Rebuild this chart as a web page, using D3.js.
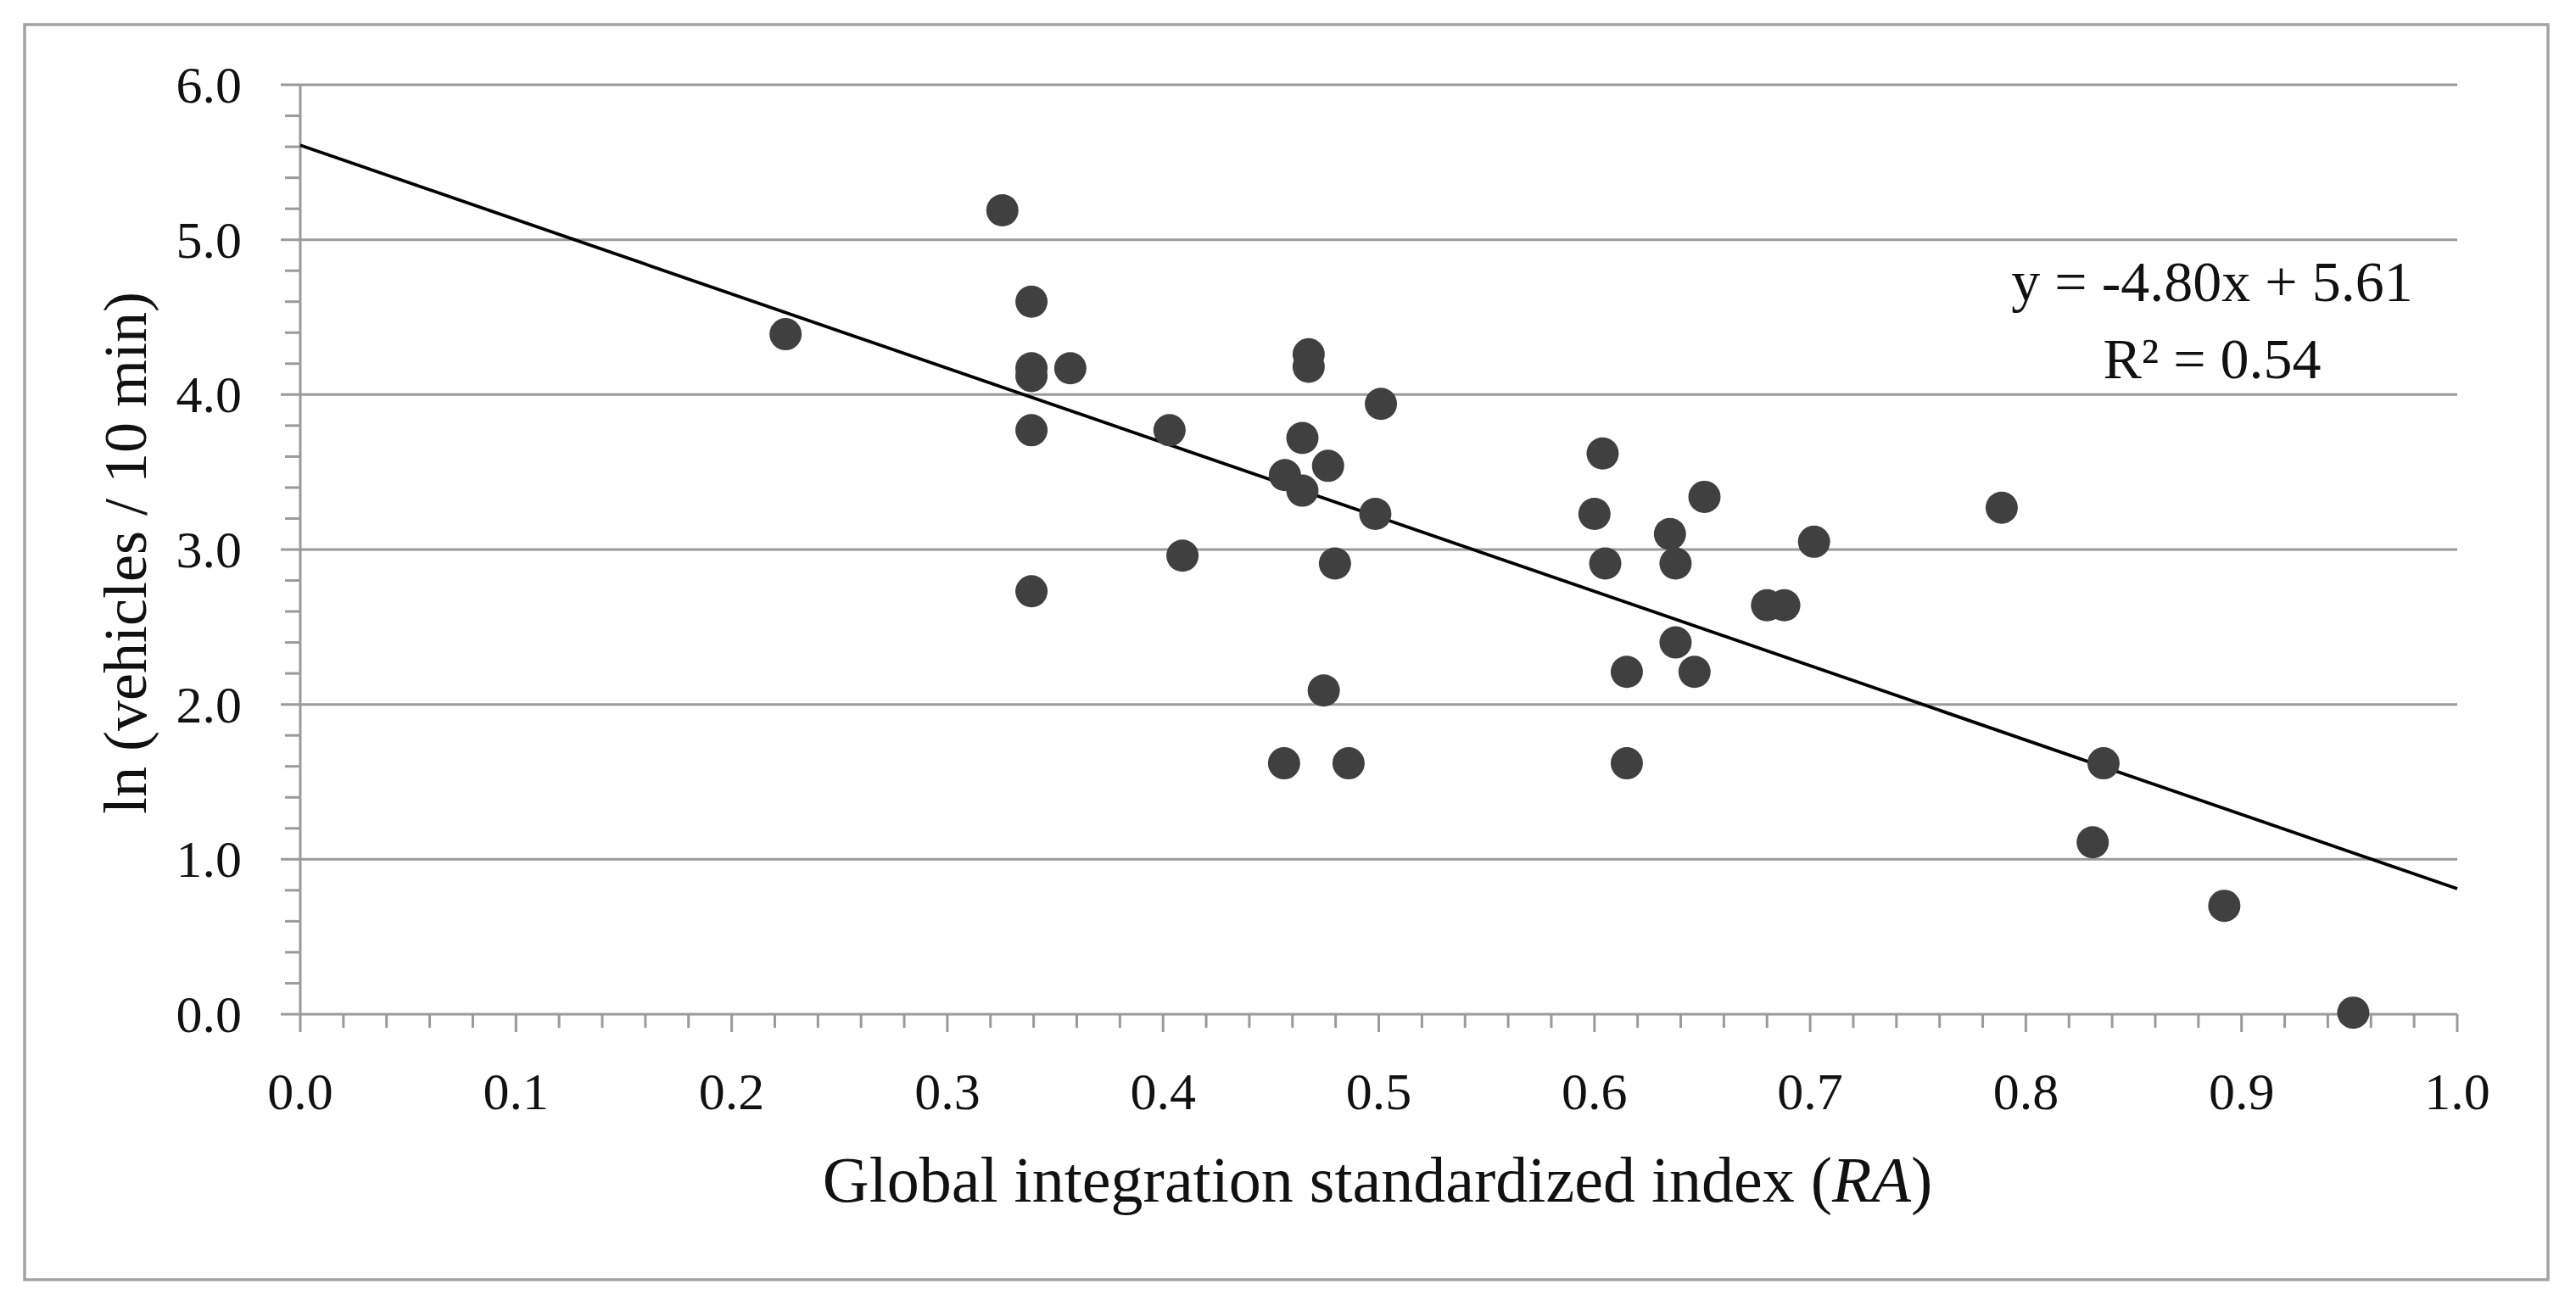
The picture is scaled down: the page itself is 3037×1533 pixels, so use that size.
<!DOCTYPE html>
<html>
<head>
<meta charset="utf-8">
<script src="https://cdn.jsdelivr.net/npm/d3@7/dist/d3.min.js"></script>
<style>
  html, body { margin: 0; padding: 0; background: #fff; }
  svg { display: block; }
  text { font-family: "Liberation Serif", "Times New Roman", serif; fill: #111; }
</style>
</head>
<body>
<svg id="chart" width="3037" height="1533"></svg>
<script>
// ---- data ----
const raValues = [0.225, 0.3255, 0.339, 0.339, 0.339, 0.357, 0.339, 0.339, 0.403, 0.409,
                  0.4675, 0.4675, 0.4646, 0.4765, 0.4565, 0.4646, 0.501, 0.4984, 0.4797, 0.4745,
                  0.4561, 0.486, 0.6038, 0.600, 0.605, 0.615, 0.615, 0.635, 0.6376, 0.651,
                  0.6376, 0.6464, 0.680, 0.688, 0.7018, 0.7888, 0.836, 0.831, 0.892, 0.9518];
const lnVehicles = [4.39, 5.19, 4.60, 4.17, 4.12, 4.17, 3.77, 2.73, 3.77, 2.96,
                    4.26, 4.18, 3.72, 3.54, 3.48, 3.38, 3.94, 3.23, 2.91, 2.09,
                    1.62, 1.62, 3.62, 3.23, 2.91, 2.21, 1.62, 3.10, 2.91, 3.34,
                    2.40, 2.21, 2.64, 2.64, 3.05, 3.27, 1.62, 1.11, 0.70, 0.01];
const trendSlope = [-4.80];
const trendIntercept = [5.61];
const xTickLabels = ["0.0","0.1","0.2","0.3","0.4","0.5","0.6","0.7","0.8","0.9","1.0"];
const yTickLabels = ["0.0","1.0","2.0","3.0","4.0","5.0","6.0"];
const equationLines = ["y = -4.80x + 5.61", "R\u00B2 = 0.54"];
const xTitle = ["Global integration standardized index (", "RA", ")"];
const yTitle = "ln (vehicles / 10 min)";

// ---- layout ----
const svg = d3.select("#chart");
const L = 354, R = 2897, T = 100, B = 1196;
const x = d3.scaleLinear().domain([0, 1]).range([L, R]);
const y = d3.scaleLinear().domain([0, 6]).range([B, T]);
const gridColor = "#9a9a9a";

svg.append("rect").attr("width", 3037).attr("height", 1533).attr("fill", "#fff");
svg.append("rect").attr("x", 29).attr("y", 29).attr("width", 2975).attr("height", 1480)
   .attr("fill", "none").attr("stroke", "#a3a3a3").attr("stroke-width", 3.5);

// horizontal gridlines (major y ticks extended)
const yMajor = yTickLabels.map(d => +d);
svg.append("g").selectAll("line").data(yMajor).join("line")
  .attr("x1", L - 23).attr("x2", R)
  .attr("y1", d => y(d)).attr("y2", d => y(d))
  .attr("stroke", gridColor).attr("stroke-width", 3);

// y minor ticks
const yMinor = d3.range(0, 6.0001, 0.2).filter(v => Math.abs(v - Math.round(v)) > 1e-6);
svg.append("g").selectAll("line").data(yMinor).join("line")
  .attr("x1", L - 18).attr("x2", L)
  .attr("y1", d => y(d)).attr("y2", d => y(d))
  .attr("stroke", gridColor).attr("stroke-width", 3);

// y axis line
svg.append("line").attr("x1", L).attr("x2", L).attr("y1", y(6)).attr("y2", B)
  .attr("stroke", gridColor).attr("stroke-width", 3);

// x axis ticks
const xMajor = xTickLabels.map(d => +d);
svg.append("g").selectAll("line").data(xMajor).join("line")
  .attr("x1", d => x(d)).attr("x2", d => x(d))
  .attr("y1", B).attr("y2", B + 21)
  .attr("stroke", gridColor).attr("stroke-width", 3);
const xMinor = d3.range(0, 1.0001, 0.02).filter(v => Math.abs(v * 10 - Math.round(v * 10)) > 1e-6);
svg.append("g").selectAll("line").data(xMinor).join("line")
  .attr("x1", d => x(d)).attr("x2", d => x(d))
  .attr("y1", B).attr("y2", B + 16)
  .attr("stroke", gridColor).attr("stroke-width", 3);

// tick labels
svg.append("g").selectAll("text").data(yTickLabels).join("text")
  .attr("x", 285).attr("y", d => y(+d) + 21)
  .attr("text-anchor", "end").attr("font-size", 62).text(d => d);
svg.append("g").selectAll("text").data(xTickLabels).join("text")
  .attr("x", d => x(+d)).attr("y", 1308)
  .attr("text-anchor", "middle").attr("font-size", 62).text(d => d);

// axis titles
const xt = svg.append("text").attr("x", 1624).attr("y", 1417)
  .attr("text-anchor", "middle").attr("font-size", 76);
xt.append("tspan").text(xTitle[0]);
xt.append("tspan").attr("font-style", "italic").text(xTitle[1]);
xt.append("tspan").text(xTitle[2]);

svg.append("text").attr("transform", "translate(172,652) rotate(-90)")
  .attr("text-anchor", "middle").attr("font-size", 72).text(yTitle);

// trend line
const trendFn = v => trendSlope[0] * v + trendIntercept[0];
svg.append("line")
  .attr("x1", x(0)).attr("y1", y(trendFn(0)))
  .attr("x2", x(1)).attr("y2", y(trendFn(1)))
  .attr("stroke", "#000").attr("stroke-width", 3.8);

// points
const pts = raValues.map((v, i) => ({ x: v, y: lnVehicles[i] }));
svg.append("g").selectAll("circle").data(pts).join("circle")
  .attr("cx", d => x(d.x)).attr("cy", d => y(d.y)).attr("r", 19)
  .attr("fill", "#404040");

// equation
svg.append("g").selectAll("text").data(equationLines).join("text")
  .attr("x", 2608).attr("y", (d, i) => 355 + i * 91)
  .attr("text-anchor", "middle").attr("font-size", 68).text(d => d);
</script>
</body>
</html>
